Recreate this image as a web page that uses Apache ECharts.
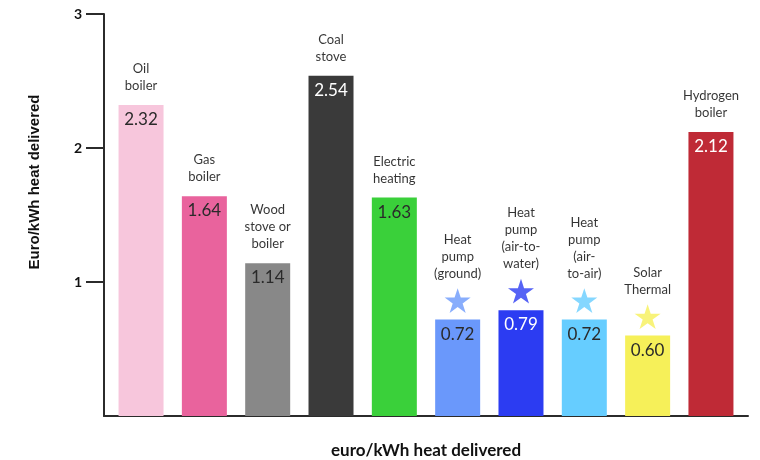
<!DOCTYPE html>
<html>
<head>
<meta charset="utf-8">
<script src="https://cdn.jsdelivr.net/npm/echarts@6/dist/echarts.min.js"></script>
<style>
  html, body { margin: 0; padding: 0; background: #fff; }
  #chart { width: 760px; height: 460px; }
</style>
</head>
<body>
<div id="chart"></div>
<script>
// Heating technologies and their delivered-heat cost
const categories = ['Oil\nboiler', 'Gas\nboiler', 'Wood\nstove or\nboiler', 'Coal\nstove', 'Electric\nheating',
  'Heat\npump\n(ground)', 'Heat\npump\n(air-to-\nwater)', 'Heat\npump\n(air-\nto-air)', 'Solar\nThermal', 'Hydrogen\nboiler'];
const costs = [2.32, 1.64, 1.14, 2.54, 1.63, 0.72, 0.79, 0.72, 0.60, 2.12];
const barColors = ['#f7c6dc', '#e9639d', '#888888', '#3a3a3a', '#3ad03a', '#6a98fb', '#2c3cf2', '#66cdff', '#f6f059', '#bf2a36'];
const valueColors = ['#2a2a2a', '#2a2a2a', '#2a2a2a', '#ffffff', '#2a2a2a', '#2a2a2a', '#ffffff', '#2a2a2a', '#2a2a2a', '#ffffff'];
// Low-carbon options flagged with a star
const starred = [false, false, false, false, false, true, true, true, true, false];
const yTicks = [1, 2, 3];

// Five-pointed star outline for the symbol
function starPath() {
  let d = '';
  for (let k = 0; k < 10; k++) {
    const r = k % 2 ? 0.382 : 1;
    const a = -Math.PI / 2 + k * Math.PI / 5;
    d += (k ? 'L' : 'M') + (r * Math.cos(a)).toFixed(4) + ' ' + (r * Math.sin(a)).toFixed(4);
  }
  return 'path://' + d + 'Z';
}

const labelFont = 'Lato, "Open Sans", sans-serif';

const chart = echarts.init(document.getElementById('chart'), null, { renderer: 'canvas' });

chart.setOption({
  animation: false,
  backgroundColor: '#ffffff',
  grid: { left: 104, right: 12, top: 14, bottom: 44, outerBoundsMode: 'none' },
  xAxis: {
    type: 'value',
    min: -0.585,
    max: 9.585,
    splitLine: { show: false },
    axisTick: { show: false },
    axisLabel: { show: false },
    axisLine: { show: true, onZero: false, lineStyle: { color: '#2b2b2b', width: 2 } },
    name: 'euro/kWh heat delivered',
    nameLocation: 'middle',
    nameGap: 26,
    nameTextStyle: { fontFamily: 'Lato, sans-serif', fontWeight: 'bold', fontSize: 17, color: '#111111' }
  },
  yAxis: {
    type: 'value',
    min: 0,
    max: 3,
    interval: 1,
    splitLine: { show: false },
    axisLine: { show: true, onZero: false, lineStyle: { color: '#2b2b2b', width: 2 } },
    axisTick: { show: true, length: 18, customValues: yTicks, lineStyle: { color: '#2b2b2b', width: 2 } },
    axisLabel: { customValues: yTicks, margin: 22, fontFamily: 'Lato, sans-serif', fontWeight: 'bold', fontSize: 14, color: '#111111' },
    name: 'Euro/kWh heat delivered',
    nameLocation: 'middle',
    nameRotate: 90,
    nameGap: 62,
    nameTextStyle: { fontFamily: '"Liberation Sans", Arial, sans-serif', fontWeight: 'bold', fontSize: 15, color: '#111111', padding: [0, 0, 0, 66] }
  },
  series: [
    {
      // Cost bars with the value printed inside the top
      type: 'bar',
      barWidth: 45,
      data: costs.map((v, i) => ({
        value: [i, v],
        itemStyle: { color: barColors[i] },
        label: { color: valueColors[i] }
      })),
      label: {
        show: true,
        position: 'insideTop',
        distance: 6,
        fontFamily: labelFont,
        fontSize: 17,
        formatter: p => p.value[1].toFixed(2)
      }
    },
    {
      // Stars above the low-carbon options
      type: 'scatter',
      symbol: starPath(),
      symbolKeepAspect: true,
      symbolSize: 26,
      symbolOffset: [0, -19],
      data: costs.map((v, i) => starred[i] ? { value: [i, v], itemStyle: { color: barColors[i] } } : null).filter(Boolean),
      z: 3
    },
    {
      // Technology names above each bar
      type: 'scatter',
      symbol: 'circle',
      symbolSize: 1,
      itemStyle: { color: 'rgba(0,0,0,0)' },
      data: costs.map((v, i) => ({
        value: [i, v],
        label: { distance: starred[i] ? 37 : 10 }
      })),
      label: {
        show: true,
        position: 'top',
        fontFamily: labelFont,
        fontSize: 13,
        lineHeight: 17,
        align: 'center',
        color: '#000000',
        formatter: p => categories[p.dataIndex]
      },
      z: 4
    }
  ]
});
</script>
</body>
</html>
